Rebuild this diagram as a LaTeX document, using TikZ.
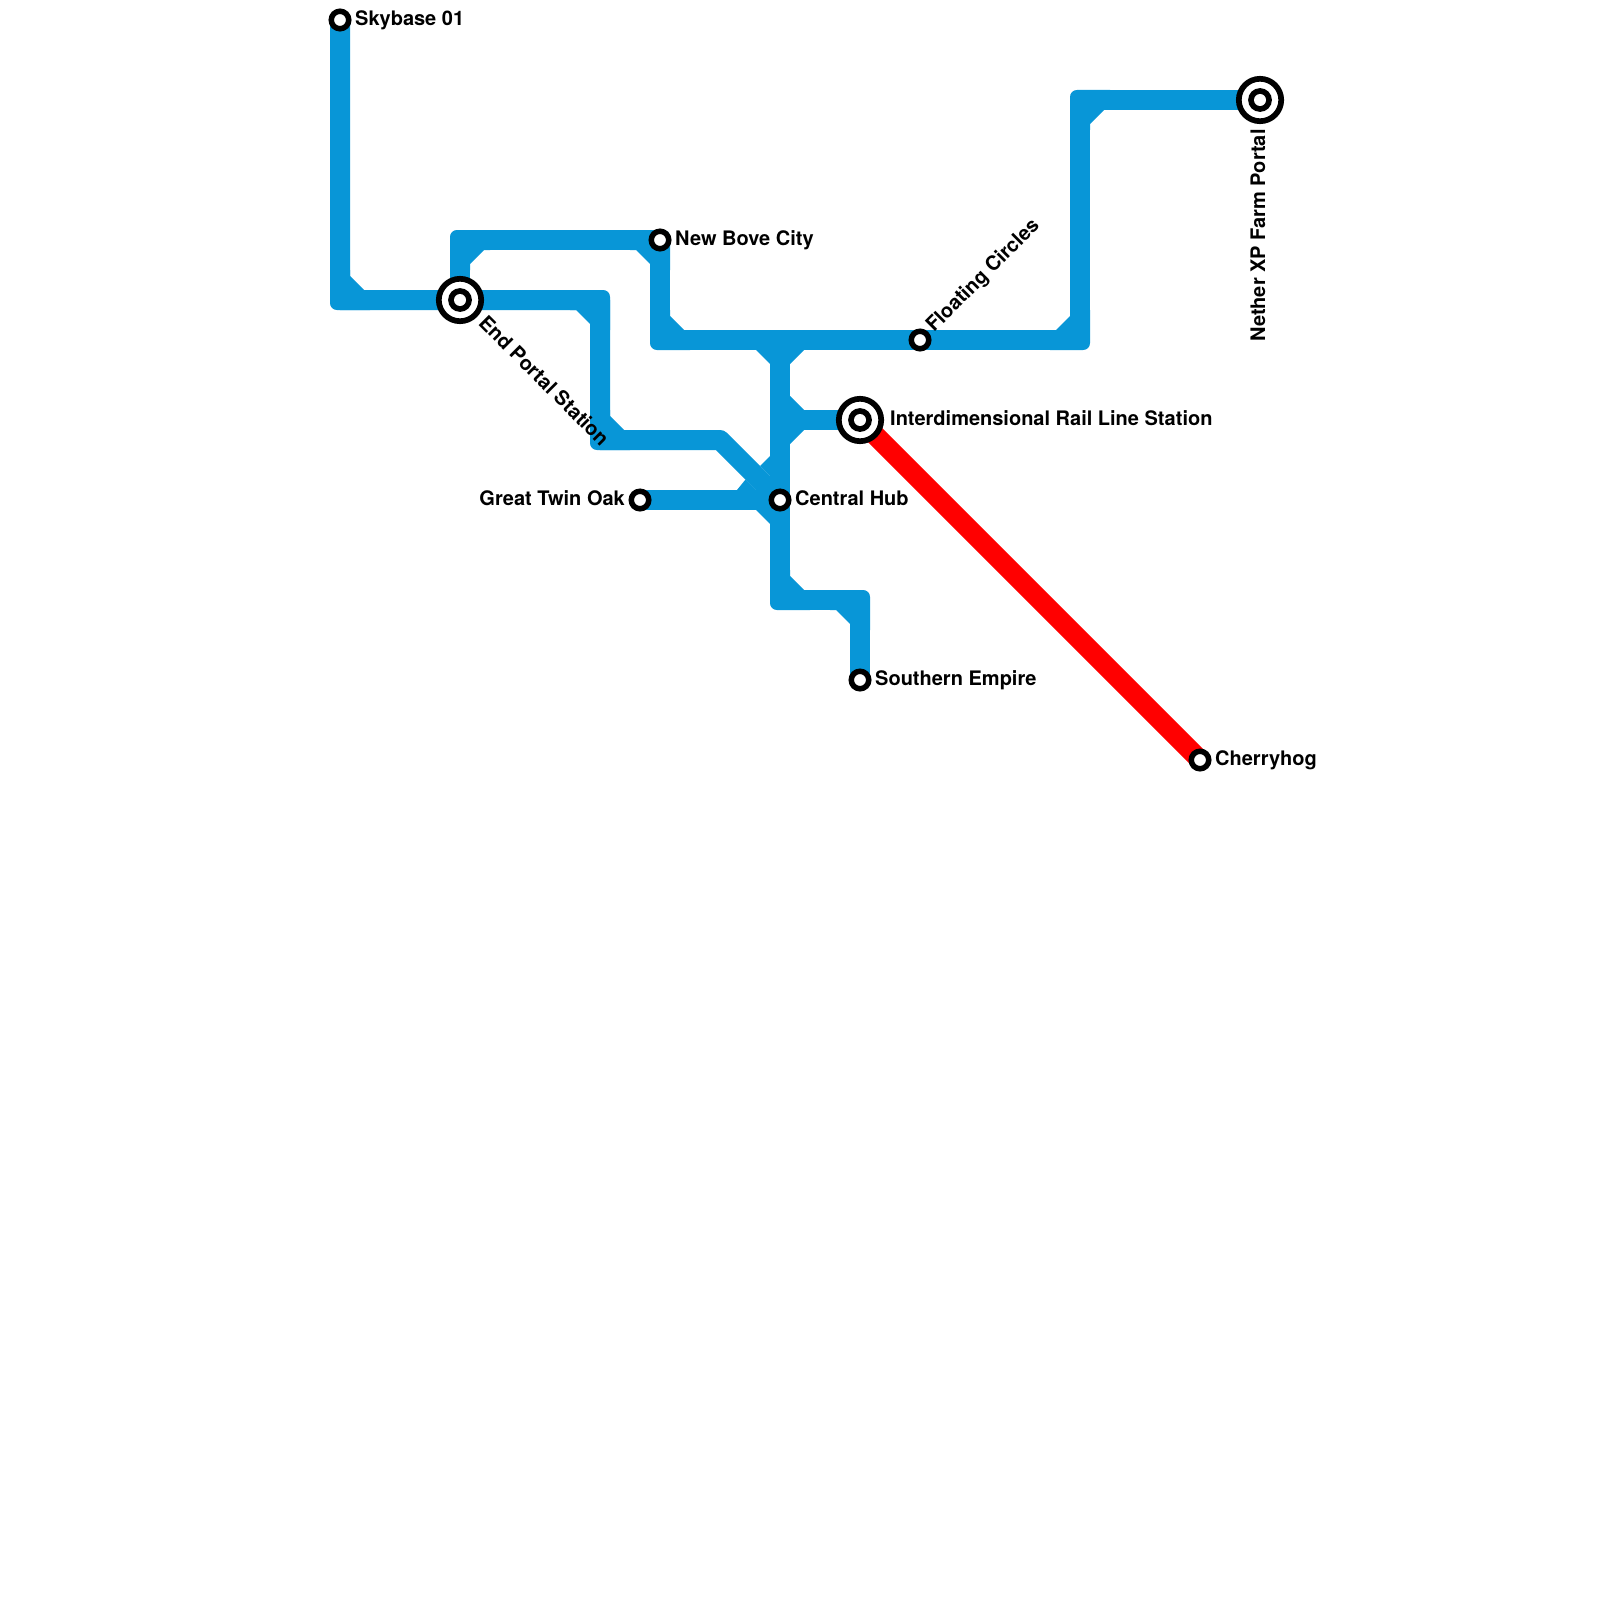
\documentclass[tikz,border=0pt]{standalone}
\usepackage{fontspec}
\setmainfont{TeX Gyre Heros}
\definecolor{lineblue}{HTML}{0896D7}
\tikzset{
  x=1pt,y=-1pt,
  blueline/.style={draw=lineblue,line width=20pt,line join=round},
  redline/.style={draw=red,line width=20pt},
  smallstop/.style={circle,draw=black,fill=white,line width=5.5pt,minimum size=17.5pt,inner sep=0pt},
  bigstop/.style={circle,draw=black,fill=white,line width=5.7pt,minimum size=42.4pt,inner sep=0pt,
    path picture={\fill[black] (path picture bounding box.center) circle[radius=11.9pt];
                  \fill[white] (path picture bounding box.center) circle[radius=6pt];}},
  caption/.style={inner sep=0pt,font=\bfseries\fontsize{20pt}{22pt}\selectfont,text=black},
}
\newcommand\bendat[2]{\fill[lineblue,shift={(#1)},rotate=#2] (-10,-30) -- (-10,3) .. controls (-10,7) and (-7,10) .. (-3,10) -- (30,10) -- (30,-10) -- (24,-10) -- (10,-24) -- (10,-30) -- cycle;}
\newcommand\notch[2]{\fill[lineblue,shift={(#1)},rotate=#2] (10,-24) -- (24,-10) -- (10,-10) -- cycle;}
\begin{document}
\begin{tikzpicture}
\useasboundingbox (0,0) rectangle (1600,1600);
% junctions
\coordinate (j1) at (340,300);
\coordinate (j2) at (600,300);
\coordinate (j3) at (600,440);
\coordinate (j4) at (720,440);
\coordinate (j5) at (460,240);
\coordinate (j6) at (660,340);
\coordinate (j7) at (1080,340);
\coordinate (j8) at (1080,100);
\coordinate (j9) at (780,340);
\coordinate (j10) at (780,420);
\coordinate (j11) at (780,600);
\coordinate (j12) at (860,600);
% stations
\coordinate (psky) at (340,20);
\coordinate (pend) at (460,300);
\coordinate (pbove) at (660,240);
\coordinate (pflo) at (920,340);
\coordinate (pnet) at (1260,100);
\coordinate (pint) at (860,420);
\coordinate (pgto) at (640,500);
\coordinate (phub) at (780,500);
\coordinate (psou) at (860,680);
\coordinate (pche) at (1200,760);
% lines
\draw[redline] (pint) -- (pche);
\draw[blueline] (psky) -- (j1) -- (pend) -- (j2) -- (j3) -- (j4) -- (phub);
\draw[blueline] (pend) -- (j5) -- (pbove) -- (j6) -- (pflo) -- (j7) -- (j8) -- (pnet);
\draw[blueline] (j9) -- (j10) -- (phub) -- (j11) -- (j12) -- (psou);
\draw[blueline] (j10) -- (pint);
\draw[blueline] (pgto) -- (phub);
% corner shapes
\bendat{j1}{0}
\bendat{j6}{0}
\bendat{j3}{0}
\bendat{j11}{0}
\bendat{j2}{180}
\bendat{j12}{180}
\bendat{pbove}{180}
\bendat{j5}{270}
\bendat{j8}{270}
\bendat{j7}{90}
\notch{j9}{180}
\notch{j9}{270}
\notch{j10}{0}
\notch{j10}{270}
\notch{phub}{180}
\fill[lineblue] (737,490) -- (745.5,479.5) -- (756,490) -- cycle;
\fill[lineblue] (760,466) -- (770,456) -- (770,476) -- cycle;
% stations
\node[smallstop] (sky) at (psky) {};
\node[bigstop] (endp) at (pend) {};
\node[smallstop] (bove) at (pbove) {};
\node[smallstop] (flo) at (pflo) {};
\node[bigstop] (net) at (pnet) {};
\node[bigstop] (int) at (pint) {};
\node[smallstop] (gto) at (pgto) {};
\node[smallstop] (hub) at (phub) {};
\node[smallstop] (sou) at (psou) {};
\node[smallstop] (che) at (pche) {};
% labels
\node[caption,anchor=base west] (lsky) at (355,25.5) {Skybase 01};
\node[caption,anchor=base west] (lbove) at (675,245.5) {New Bove City};
\node[caption,anchor=base west] (lint) at (890,425.5) {Interdimensional Rail Line Station};
\node[caption,anchor=base west] (lhub) at (795,505.5) {Central Hub};
\node[caption,anchor=base east] (lgto) at (625,505.5) {Great Twin Oak};
\node[caption,anchor=base west] (lsou) at (875,685.5) {Southern Empire};
\node[caption,anchor=base west] (lche) at (1215,765.5) {Cherryhog};
\node[caption,anchor=base west,rotate=-45] (lend) at (477.5,324) {End Portal Station};
\node[caption,anchor=base west,rotate=45] (lflo) at (934,333) {Floating Circles};
\node[caption,anchor=base west,rotate=90] (lnet) at (1265,342) {Nether XP Farm Portal};
\end{tikzpicture}
\end{document}
